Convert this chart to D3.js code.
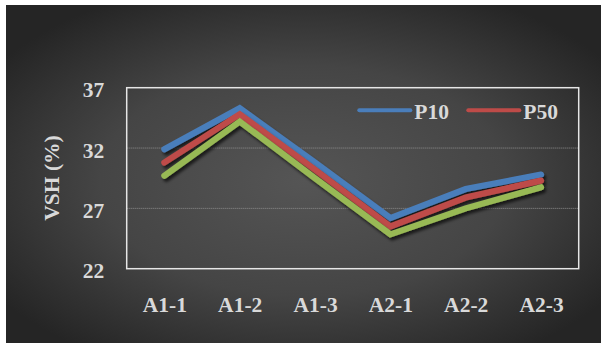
<!DOCTYPE html>
<html>
<head>
<meta charset="utf-8">
<script src="https://cdn.jsdelivr.net/npm/d3@7/dist/d3.min.js"></script>
<style>
  html, body { margin: 0; padding: 0; background: #ffffff; }
  svg { display: block; }
  text { font-family: "Liberation Serif", "Times New Roman", serif; font-weight: bold; fill: #d9d9d9; }
</style>
</head>
<body>
<svg id="chart" width="601" height="343"></svg>
<script>
// ---- data ----
const categories = ["A1-1", "A1-2", "A1-3", "A2-1", "A2-2", "A2-3"];
const p10 = [31.9, 35.3, 30.8, 26.2, 28.6, 29.8];
const p50 = [30.8, 34.8, 30.2, 25.5, 27.9, 29.3];
const p90 = [29.7, 34.2, 29.5, 24.85, 27.0, 28.75];
const seriesNames = ["P10", "P50", "P90"];
const legendNames = ["P10", "P50"];
const yTicks = [22, 27, 32, 37];
const gridTicks = [27, 32];
const yTitle = "VSH (%)";

// ---- layout ----
const W = 601, H = 343;
const plot = { left: 126.7, top: 87.7, right: 578.7, bottom: 268.7 };
const colors = { P10: "#4a7ebb", P50: "#be4b48", P90: "#98b954" };

const svg = d3.select("#chart");
const defs = svg.append("defs");

const grad = defs.append("radialGradient")
  .attr("id", "bg").attr("cx", "50%").attr("cy", "52%").attr("r", "62%");
grad.append("stop").attr("offset", "0%").attr("stop-color", "#555555");
grad.append("stop").attr("offset", "55%").attr("stop-color", "#454545");
grad.append("stop").attr("offset", "100%").attr("stop-color", "#252525");

const shadow = defs.append("filter").attr("id", "shadow")
  .attr("x", "-10%").attr("y", "-20%").attr("width", "130%").attr("height", "150%");
shadow.append("feDropShadow").attr("dx", 2).attr("dy", 3)
  .attr("stdDeviation", 1.8).attr("flood-color", "#000").attr("flood-opacity", 0.65);

svg.append("rect").attr("x", 6).attr("y", 5).attr("width", W - 6).attr("height", H - 5)
  .attr("fill", "url(#bg)");

const x = d3.scalePoint().domain(categories).range([plot.left, plot.right]).padding(0.5);
const y = d3.scaleLinear().domain([22, 37]).range([plot.bottom, plot.top]);

// gridlines
svg.append("g").selectAll("line").data(gridTicks).join("line")
  .attr("x1", plot.left).attr("x2", plot.right)
  .attr("y1", d => y(d)).attr("y2", d => y(d))
  .attr("stroke", "#8f8f8f").attr("stroke-width", 1)
  .attr("stroke-dasharray", "1 1");

// plot border
svg.append("rect")
  .attr("x", plot.left).attr("y", plot.top)
  .attr("width", plot.right - plot.left).attr("height", plot.bottom - plot.top)
  .attr("fill", "none").attr("stroke", "#e6e6e6").attr("stroke-width", 1.5);

// axes
const yAxis = svg.append("g").attr("transform", `translate(${plot.left},0)`)
  .call(d3.axisLeft(y).tickValues(yTicks).tickSize(0).tickPadding(22.4).tickFormat(d3.format("d")));
yAxis.select(".domain").remove();
yAxis.selectAll("text").attr("dy", "0.42em").style("font-size", "21.5px")
  .attr("fill", "#d9d9d9").style("font-family", "'Liberation Serif', serif").style("font-weight", "bold");

const xAxis = svg.append("g").attr("transform", `translate(0,${plot.bottom})`)
  .call(d3.axisBottom(x).tickSize(0).tickPadding(28));
xAxis.select(".domain").remove();
xAxis.selectAll("text").style("font-size", "21.5px")
  .attr("fill", "#d9d9d9").style("font-family", "'Liberation Serif', serif").style("font-weight", "bold");

// axis title
svg.append("text")
  .attr("transform", "translate(52,178) rotate(-90)")
  .attr("text-anchor", "middle").attr("dominant-baseline", "central")
  .style("font-size", "21.5px")
  .text(yTitle);

// lines
const seriesData = [p10, p50, p90];
const line = d3.line().x((d, i) => x(categories[i])).y(d => y(d));
svg.append("g").selectAll("path").data(seriesData).join("path")
  .attr("d", d => line(d))
  .attr("fill", "none")
  .attr("stroke", (d, i) => colors[seriesNames[i]])
  .attr("stroke-width", 6.2)
  .attr("stroke-linecap", "round")
  .attr("stroke-linejoin", "miter")
  .attr("filter", "url(#shadow)");

// legend
const legendX = [359.3, 468.3];
const lg = svg.append("g");
legendNames.forEach((name, i) => {
  lg.append("line")
    .attr("x1", legendX[i]).attr("x2", legendX[i] + 51)
    .attr("y1", 110.3).attr("y2", 110.3)
    .attr("stroke", colors[name]).attr("stroke-width", 4)
    .attr("stroke-linecap", "round");
  lg.append("text")
    .attr("x", legendX[i] + 55).attr("y", 118.5)
    .style("font-size", "21.5px")
    .text(name);
});
</script>
</body>
</html>
